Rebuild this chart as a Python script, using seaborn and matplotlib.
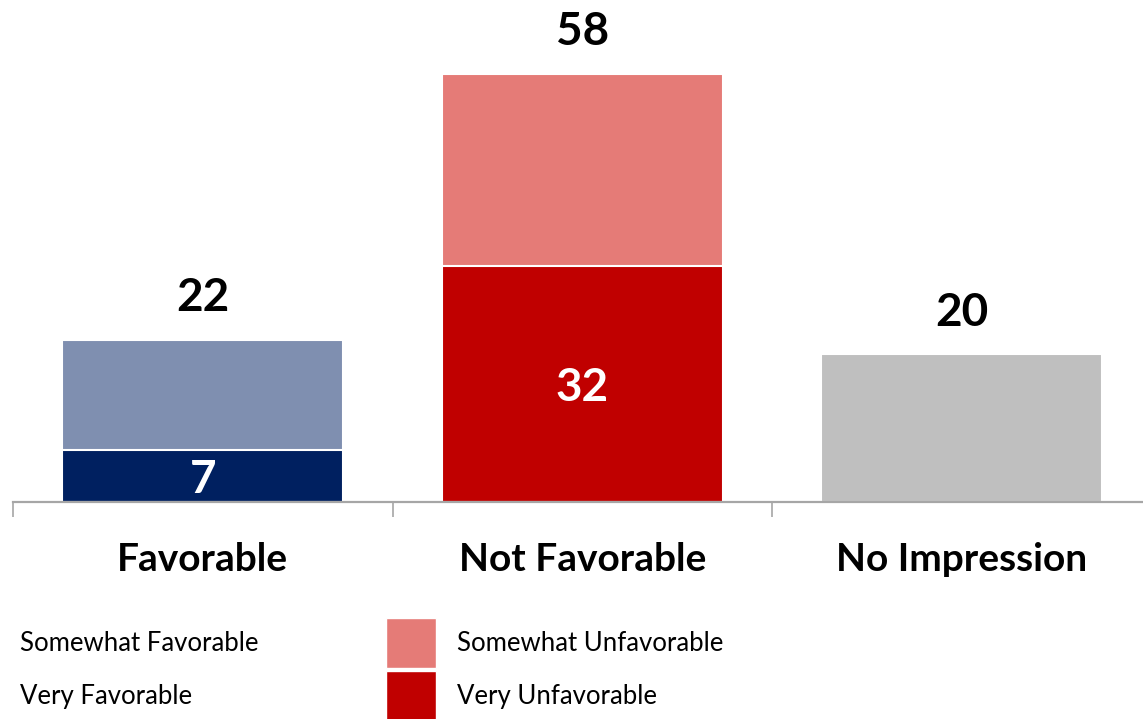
import matplotlib
matplotlib.use("Agg")
import matplotlib.pyplot as plt
from matplotlib.patches import Patch
from matplotlib.ticker import FixedLocator
import seaborn as sns
import pandas as pd

# Survey results (percent)
categories = ["Favorable", "Not Favorable", "No Impression"]
totals = [22, 58, 20]
very_categories = ["Favorable", "Not Favorable"]
very_values = [7, 32]

total_colors = ["#7F8FB0", "#E57B77", "#BFBFBF"]
very_colors = ["#002060", "#C00000"]

legend_fav = ["Somewhat Favorable", "Very Favorable"]
legend_unfav = ["Somewhat Unfavorable", "Very Unfavorable"]

sns.set_theme(style="white")
plt.rcParams["font.family"] = ["Lato", "DejaVu Sans"]

W, H, DPI = 1143, 719, 100
fig = plt.figure(figsize=(W / DPI, H / DPI), dpi=DPI)

# Axes: baseline at y=502px, three category slots of ~379.5px starting at x=13px
px_per_unit = 7.38
ymax = 60
ax_left = 13 / W
ax_width = 3 * 379.5 / W
ax_bottom = (H - 502) / H
ax_height = ymax * px_per_unit / H
ax = fig.add_axes([ax_left, ax_bottom, ax_width, ax_height])

df_tot = pd.DataFrame({"cat": categories, "val": totals})
df_very = pd.DataFrame({"cat": very_categories, "val": very_values})

sns.barplot(data=df_tot, x="cat", y="val", hue="cat", order=categories,
            hue_order=categories, palette=total_colors, width=0.74,
            saturation=1, edgecolor="white", linewidth=1.5, legend=False, ax=ax)
sns.barplot(data=df_very, x="cat", y="val", hue="cat", order=categories,
            hue_order=very_categories, palette=very_colors, width=0.74,
            saturation=1, edgecolor="white", linewidth=1.5, legend=False, ax=ax)

ax.set_xlim(-0.5, 2.5)
ax.set_ylim(0, ymax)
ax.set_xlabel("")
ax.set_ylabel("")
ax.set_yticks([])

for s in ["top", "right", "left"]:
    ax.spines[s].set_visible(False)
ax.spines["bottom"].set_color("#A6A6A6")
ax.spines["bottom"].set_linewidth(1.6)

# Category separators as minor ticks, labels on major ticks
ax.xaxis.set_minor_locator(FixedLocator([-0.5, 0.5, 1.5, 2.5]))
ax.tick_params(axis="x", which="minor", bottom=True, length=11, width=1.2,
               color="#A6A6A6")
ax.tick_params(axis="x", which="major", bottom=True, length=0, pad=29)
ax.set_xticks(range(len(categories)))
ax.set_xticklabels(categories, fontsize=28, fontweight="bold", color="black")

# Total labels above bars
for i, v in enumerate(totals):
    ax.annotate(f"{v}", (i, v), xytext=(0, 30), textcoords="offset points",
                ha="center", va="center", fontsize=33, fontweight="bold",
                color="black")

# Inner labels for the "very" segments
for i, v in enumerate(very_values):
    ax.annotate(f"{v}", (i, v / 2), xytext=(0, -3), textcoords="offset points",
                ha="center", va="center", fontsize=33, fontweight="bold",
                color="white")

# Legends
fs = 18.5
fs_px = fs * DPI / 72
common = dict(frameon=False, fontsize=fs, handlelength=50 / fs_px,
              handleheight=50 / fs_px * 1.35, handletextpad=21 / fs_px,
              labelspacing=3 / fs_px, borderpad=0, borderaxespad=0,
              loc="upper left")

h_fav = [Patch(facecolor="white", edgecolor="white", label=l) for l in legend_fav]
h_unfav = [Patch(facecolor=c, edgecolor="white", label=l)
           for c, l in zip([total_colors[1], very_colors[1]], legend_unfav)]

leg1 = fig.legend(handles=h_fav, bbox_to_anchor=(-51 / W, 1 - 618 / H), **common)
leg2 = fig.legend(handles=h_unfav, bbox_to_anchor=(386 / W, 1 - 618 / H), **common)
for leg in (leg1, leg2):
    for t in leg.get_texts():
        t.set_color("black")

fig.savefig("out.png", dpi=DPI)
